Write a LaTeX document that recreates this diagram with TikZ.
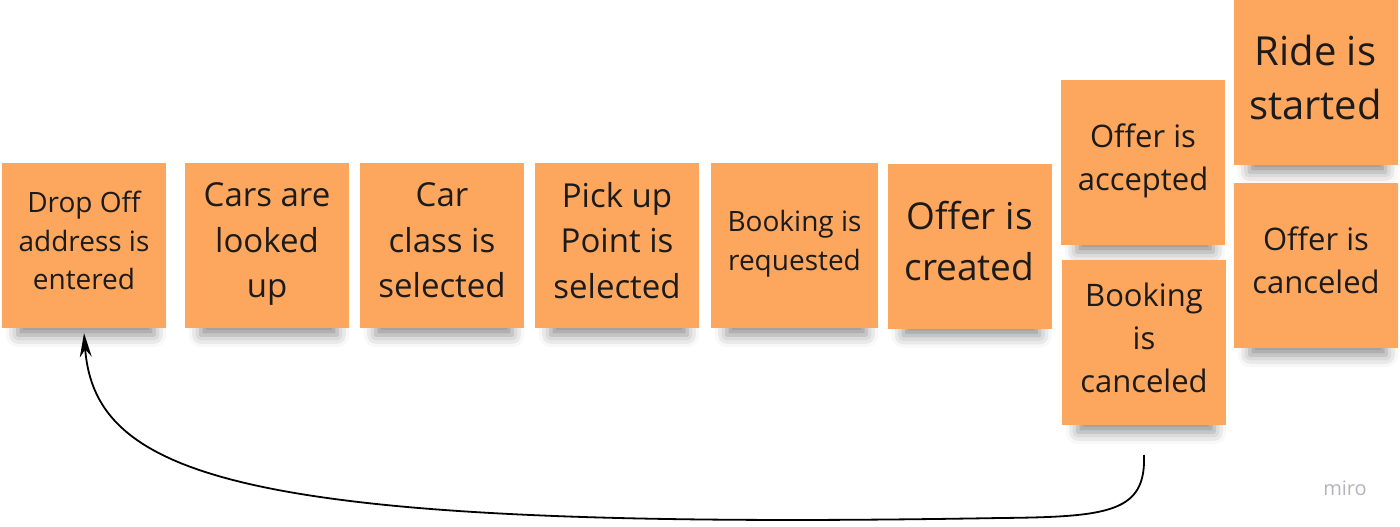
\documentclass[tikz,border=0pt]{standalone}
\usepackage{fontspec}
\setmainfont{Open Sans}
\usetikzlibrary{arrows.meta,shadows.blur,backgrounds}
\definecolor{note}{HTML}{FDA65E}
\definecolor{ink}{HTML}{1B1B1B}
\definecolor{logo}{HTML}{B4B4BA}
\tikzset{
  sticky/.style={fill=note, minimum width=164pt, minimum height=165pt, inner sep=0pt},
  label/.style={align=center, text=ink, inner sep=0pt, yshift=5pt},
  shadowbase/.style={fill=note, draw=none,
    blur shadow={shadow xshift=0pt, shadow yshift=-13pt, shadow blur radius=12pt,
      shadow opacity=45}},
  fa/.style={font=\fontsize{28}{38.5}\selectfont},
  fb/.style={font=\fontsize{31}{43}\selectfont},
  fc/.style={font=\fontsize{33}{45.5}\selectfont},
  fd/.style={font=\fontsize{37}{51}\selectfont},
  fe/.style={font=\fontsize{40}{54}\selectfont},
  link/.style={draw=black, line width=1.8pt, -{Stealth[length=24pt,width=12pt]}}
}
\newcommand{\noteshadow}[1]{%
  \path[shadowbase] ([xshift=16pt,yshift=32pt]#1.south west) rectangle ([xshift=-12pt,yshift=6pt]#1.south east);}
\begin{document}
\begin{tikzpicture}[x=1pt,y=-1pt]
\useasboundingbox (0,0) rectangle (1400,527);
\node[sticky] (n1) at (84,245.5) {};
\node[sticky] (n2) at (267,245.5) {};
\node[sticky] (n3) at (442,245.5) {};
\node[sticky] (n4) at (617,245.5) {};
\node[sticky,minimum width=167pt] (n5) at (794.5,245.5) {};
\node[sticky] (n6) at (969.5,246) {};
\node[sticky] (n7) at (1143,162.5) {};
\node[sticky] (n8) at (1144,342.5) {};
\node[sticky] (n9) at (1315.5,82.5) {};
\node[sticky] (n10) at (1316,265.5) {};
\begin{scope}[on background layer]
\foreach \n in {n1,n2,n3,n4,n5,n6,n7,n8,n9,n10} {\noteshadow{\n}}
\end{scope}
\node[label,fa] (t1) at (n1) {Drop Off\\address is\\entered};
\node[label,fc,yshift=-4pt] (t2) at (n2) {Cars are\\looked\\up};
\node[label,fc] (t3) at (n3) {Car\\class is\\selected};
\node[label,fc] (t4) at (n4) {Pick up\\Point is\\selected};
\node[label,fa,yshift=-3pt] (t5) at (n5) {Booking is\\requested};
\node[label,fd] (t6) at (n6) {Offer is\\created};
\node[label,fb,yshift=-3pt] (t7) at (n7) {Offer is\\accepted};
\node[label,fb] (t8) at (n8) {Booking\\is\\canceled};
\node[label,fe] (t9) at (n9) {Ride is\\started};
\node[label,fb] (t10) at (n10) {Offer is\\canceled};
\node[text=logo, font=\fontsize{20}{22}\selectfont] (logo) at (1345,488) {miro};
\coordinate (cs) at (1144,455);
\coordinate (cm) at (1000,518);
\draw[link] (cs) .. controls (1146,512) and (1110,517) .. (cm)
  .. controls (250,531) and (95,480) .. ([yshift=-5pt]n1.south);
\end{tikzpicture}
\end{document}
